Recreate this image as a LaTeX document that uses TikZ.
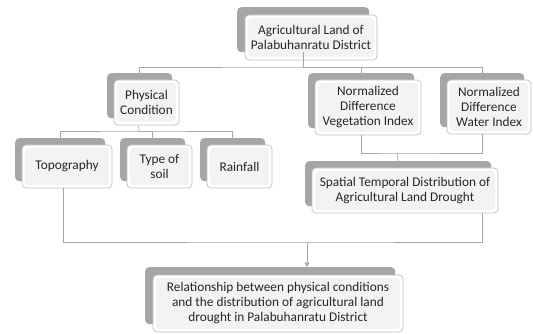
\documentclass[tikz,border=0pt]{standalone}
\usepackage{fontspec}
\setmainfont{Carlito}
\usetikzlibrary{arrows.meta,calc}
\definecolor{backgray}{HTML}{A6A6A6}
\definecolor{edgegray}{HTML}{BFBFBF}
\definecolor{innerfill}{HTML}{F3F3F3}
\definecolor{linegray}{HTML}{A6A6A6}
\definecolor{textcol}{HTML}{262626}
\tikzset{
  backbox/.style={fill=backgray, draw=none, rounded corners=4pt, inner sep=0pt, anchor=north west},
  frontbox/.style={fill=white, draw=edgegray, line width=0.7pt, rounded corners=4pt, inner sep=0pt, anchor=center,
    align=center, font=\fontsize{13.3}{15}\selectfont, text=textcol,
    path picture={\fill[innerfill] ([shift={(3pt,-3pt)}]path picture bounding box.north west) rectangle ([shift={(-3pt,3pt)}]path picture bounding box.south east);}},
  conn/.style={draw=linegray, line width=0.7pt}
}
\newcommand{\bx}[7]{% name, fx1, fy1, fx2, fy2, text, back dx
  \node[backbox, minimum width={(#4-#2)*1pt}, minimum height={(#5-#3)*1pt}] (#1b) at (#2-#7,#3-#7) {};
  \node[frontbox, minimum width={(#4-#2)*1pt}, minimum height={(#5-#3)*1pt}] (#1) at ({(#2+#4)/2},{(#3+#5)/2}) {#6};
}
\begin{document}
\begin{tikzpicture}[x=1pt,y=-1pt]
\useasboundingbox (0,0) rectangle (533,334);
% boxes
\bx{top}{245}{15}{377}{60}{Agricultural Land of\\Palabuhanratu District}{8}
\bx{pc}{114}{80}{179}{125}{Physical\\Condition}{7}
\bx{ndvi}{315}{80}{421}{135}{Normalized\\Difference\\Vegetation Index}{7}
\bx{ndwi}{447}{80}{531}{134}{Normalized\\Difference\\Water Index}{7}
\bx{topo}{22}{145}{112}{188}{Topography}{7}
\bx{soil}{127}{145}{192}{188}{Type of\\soil}{7}
\bx{rain}{207}{145}{272}{188}{Rainfall}{7}
\bx{sp}{312}{168}{498}{213}{Spatial Temporal Distribution of\\Agricultural Land Drought}{7}
\bx{rel}{153}{275}{403}{332}{Relationship between physical conditions\\and the distribution of agricultural land\\drought in Palabuhanratu District}{8}
% junctions
\coordinate (j1) at (303,67);
\coordinate (j2) at (139,131);
\coordinate (j3) at (397,153);
\coordinate (j4) at (307,242);
% connectors
\draw[conn] (topb.south -| j1) -- (j1);
\draw[conn] (pcb.north) |- (j1) -| (ndvib.north);
\draw[conn] (j1) -| (ndwib.north);
\draw[conn] ([xshift=-1pt]pc.south -| pcb.north) -- (j2);
\draw[conn] (topob.north) |- (j2) -| (rainb.north);
\draw[conn] (j2) -| (soilb.north);
\draw[conn] (ndvi.south -| ndvib.north) |- (j3) -| (ndwi.south -| ndwib.north);
\draw[conn] (j3) -- (spb.north);
\draw[conn] ([xshift=-4pt]topo.south) |- (j4) -| ([xshift=-16pt]sp.south east);
\draw[conn, -{Triangle[width=5pt,length=4.5pt]}] (j4) -- (j4 |- relb.north);
\end{tikzpicture}
\end{document}
